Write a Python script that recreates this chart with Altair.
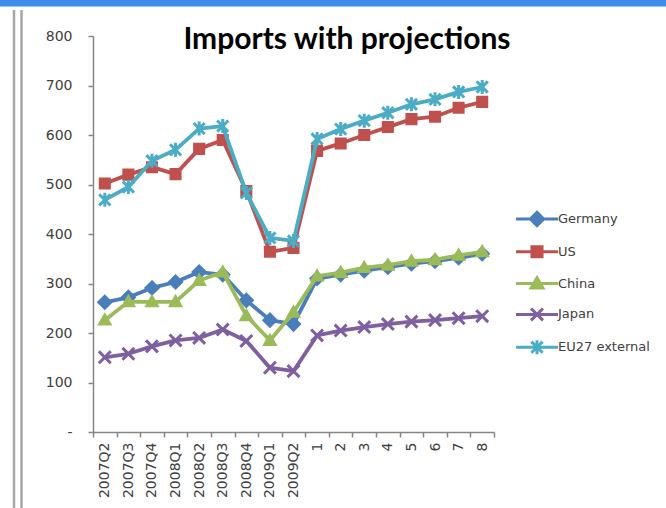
import altair as alt
import pandas as pd

# Quarter labels followed by the projected periods
categories = ["2007Q2", "2007Q3", "2007Q4", "2008Q1", "2008Q2", "2008Q3", "2008Q4",
              "2009Q1", "2009Q2", "1", "2", "3", "4", "5", "6", "7", "8"]

series_names = ["Germany", "US", "China", "Japan", "EU27 external"]

germany = [262, 272, 291, 303, 323, 318, 266, 226, 218, 310, 318, 326, 333, 340, 345, 352, 360]
us = [502, 520, 535, 521, 572, 590, 487, 364, 372, 568, 583, 600, 616, 632, 637, 655, 667]
china = [226, 263, 263, 263, 306, 323, 235, 185, 242, 315, 322, 332, 337, 345, 348, 357, 364]
japan = [151, 158, 173, 185, 190, 207, 184, 130, 123, 195, 205, 212, 218, 223, 226, 230, 234]
eu27 = [469, 495, 548, 570, 613, 618, 483, 392, 386, 592, 612, 629, 645, 662, 672, 687, 697]

y_ticks = [0, 100, 200, 300, 400, 500, 600, 700, 800]

chart_title = "Imports with projections"

colors = ["#4A7EBB", "#C0504D", "#9BBB59", "#7F5FA0", "#4BACC6"]
kinds = ["diamond", "square", "triangle", "x", "star"]

values = [germany, us, china, japan, eu27]
rows = []
for name, vals in zip(series_names, values):
    for cat, v in zip(categories, vals):
        rows.append({"series": name, "period": cat, "imports": v})
df = pd.DataFrame(rows)


def marker_path(kind, k=1.0, line=None):
    """SVG path in unit coordinates; optional horizontal line segment for legend."""
    parts = []
    if line:
        parts.append(f"M{-line},0L{line},0")
    if kind == "diamond":
        a = 0.95 * k
        parts.append(f"M0,{-a}L{a},0L0,{a}L{-a},0Z")
    elif kind == "square":
        a = 0.72 * k
        parts.append(f"M{-a},{-a}L{a},{-a}L{a},{a}L{-a},{a}Z")
    elif kind == "triangle":
        a = 0.85 * k
        parts.append(f"M0,{-a}L{a},{0.75 * a}L{-a},{0.75 * a}Z")
    elif kind == "x":
        a = 0.85 * k
        parts.append(f"M{-a},{-a}L{a},{a}M{-a},{a}L{a},{-a}")
    elif kind == "star":
        a = 0.8 * k
        b = 1.0 * k
        parts.append(f"M{-a},{-a}L{a},{a}M{-a},{a}L{a},{-a}M0,{-b}L0,{b}")
    return "".join(parts)


MARK_SIZE = 196
LEGEND_SIZE = 441
legend_k = (MARK_SIZE ** 0.5) / (LEGEND_SIZE ** 0.5)

x_enc = alt.X(
    "period:N",
    sort=categories,
    scale=alt.Scale(type="band", paddingInner=0, paddingOuter=0),
    axis=alt.Axis(
        title=None, labelAngle=-90, tickBand="extent", tickSize=5,
        labelPadding=5, labelFont="DejaVu Sans", labelFontSize=14,
        labelColor="#404040", domainColor="#868686", tickColor="#868686",
        domainWidth=1.5, tickWidth=1.5,
    ),
)
y_enc = alt.Y(
    "imports:Q",
    scale=alt.Scale(domain=[0, 800], nice=False),
    axis=alt.Axis(
        title=None, values=y_ticks, tickSize=5, labelPadding=16, grid=False,
        labelExpr="datum.value == 0 ? '-' : datum.label",
        labelFont="DejaVu Sans", labelFontSize=14, labelColor="#404040",
        domainColor="#868686", tickColor="#868686", domainWidth=1.5, tickWidth=1.5,
    ),
)

base = alt.Chart(df)
layers = []
for name, color, kind in zip(series_names, colors, kinds):
    sel = base.transform_filter(alt.datum.series == name)
    line = sel.mark_line(color=color, strokeWidth=3.8, strokeJoin="round").encode(
        x=x_enc, y=y_enc
    )
    stroked_only = kind in ("x", "star")
    pts = sel.mark_point(
        shape=marker_path(kind),
        size=MARK_SIZE,
        filled=True,
        fill=color,
        stroke=color,
        strokeWidth=3 if stroked_only else 2,
        opacity=1,
    ).encode(x=x_enc, y=y_enc)
    layers += [line, pts]

# Legend: explicit domains on an otherwise empty layer
legend_layer = base.transform_filter("false").mark_point(
    filled=True, strokeWidth=3, opacity=1
).encode(
    x=x_enc,
    y=y_enc,
    fill=alt.Fill(
        "series:N",
        scale=alt.Scale(domain=series_names, range=colors),
        legend=alt.Legend(
            title=None, orient="none", legendX=432, legendY=171,
            symbolSize=LEGEND_SIZE, symbolStrokeWidth=3, labelOffset=9,
            rowPadding=7.8, labelFont="DejaVu Sans", labelFontSize=13,
            labelColor="#404040", padding=0,
        ),
    ),
    stroke=alt.Stroke("series:N", scale=alt.Scale(domain=series_names, range=colors)),
    shape=alt.Shape(
        "series:N",
        scale=alt.Scale(
            domain=series_names,
            range=[marker_path(k, legend_k, line=2.0) for k in kinds],
        ),
    ),
)

one = alt.Chart(pd.DataFrame({"k": [0]}))
title_text = one.mark_text(
    text=chart_title, font="Lato", fontSize=30, fontWeight="bold",
    color="#000000", align="center", baseline="alphabetic",
).encode(x=alt.value(254), y=alt.value(13))
top_bar = one.mark_rule(color="#3B8EEA", strokeWidth=7).encode(
    x=alt.value(-93), x2=alt.value(573), y=alt.value(-33)
)
frame_a = one.mark_rule(color="#A6A6A6", strokeWidth=2.5).encode(
    x=alt.value(-79), y=alt.value(-26), y2=alt.value(472)
)
frame_b = one.mark_rule(color="#A6A6A6", strokeWidth=2.5).encode(
    x=alt.value(-71.5), y=alt.value(-26), y2=alt.value(472)
)

chart = alt.layer(*layers, legend_layer, title_text, top_bar, frame_a, frame_b).properties(
    width=401,
    height=396,
    autosize=alt.AutoSizeParams(type="none"),
    padding={"left": 93, "top": 36, "right": 172, "bottom": 76},
    background="white",
).configure_view(stroke=None)

chart.save("out.html", embed_options={"renderer": "svg", "actions": False})
